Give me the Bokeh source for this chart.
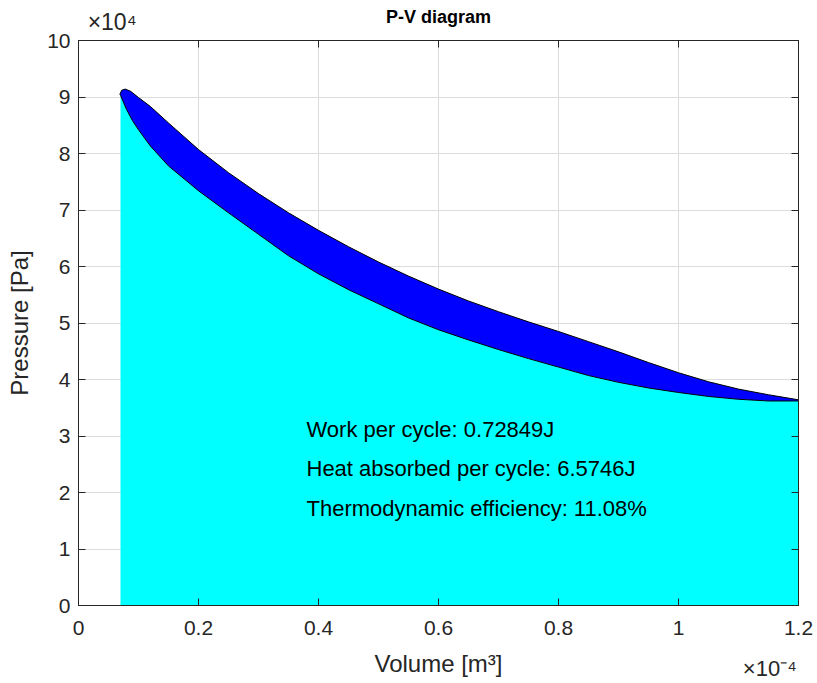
from bokeh.plotting import figure
from bokeh.models import Range1d, LinearAxis, FixedTicker, ColumnDataSource
from bokeh.core.properties import value
from bokeh.embed import file_html
from bokeh.resources import INLINE

# ---- data (volume in 1e-4 m^3, pressure in 1e4 Pa) ----
vol_upper = [0.069, 0.072, 0.078, 0.087, 0.10, 0.12, 0.15, 0.20, 0.25, 0.30, 0.35, 0.40,
             0.45, 0.50, 0.55, 0.60, 0.65, 0.70, 0.75, 0.80, 0.85, 0.90, 0.95, 1.00,
             1.05, 1.10, 1.15, 1.20]
p_upper = [9.05, 9.12, 9.14, 9.10, 8.99, 8.83, 8.54, 8.07, 7.66, 7.29, 6.95, 6.64,
           6.35, 6.08, 5.83, 5.60, 5.39, 5.20, 5.02, 4.85, 4.67, 4.49, 4.30, 4.12,
           3.96, 3.83, 3.73, 3.64]

vol_lower = [0.07, 0.08, 0.09, 0.10, 0.12, 0.15, 0.20, 0.25, 0.30, 0.35, 0.40, 0.45,
             0.50, 0.55, 0.60, 0.65, 0.70, 0.75, 0.80, 0.85, 0.90, 0.95, 1.00, 1.05,
             1.10, 1.15, 1.20]
p_lower = [9.03, 8.78, 8.58, 8.42, 8.13, 7.78, 7.34, 6.95, 6.57, 6.19, 5.87, 5.59,
           5.34, 5.09, 4.88, 4.70, 4.53, 4.37, 4.22, 4.07, 3.95, 3.85, 3.77, 3.70,
           3.65, 3.62, 3.62]

x_ticks = [0, 0.2, 0.4, 0.6, 0.8, 1.0, 1.2]
x_tick_labels = ["0", "0.2", "0.4", "0.6", "0.8", "1", "1.2"]
y_ticks = [0, 1, 2, 3, 4, 5, 6, 7, 8, 9, 10]
y_tick_labels = ["0", "1", "2", "3", "4", "5", "6", "7", "8", "9", "10"]

stats_text = ["Work per cycle: 0.72849J",
              "Heat absorbed per cycle: 6.5746J",
              "Thermodynamic efficiency: 11.08%"]
stats_x = [0.38, 0.38, 0.38]
stats_y = [3.12, 2.43, 1.71]

title_text = "P-V diagram"
x_label = "Volume [m³]"
y_label = "Pressure [Pa]"
y_exp = "×10⁴"
y_exp_x = 0.056
x_exp = "×10⁻⁴"
x_exp_x = 1.152

FONT = "Liberation Sans"
TXT = "#262626"

W, H = 817, 683
p = figure(width=W, height=H, output_backend="svg", toolbar_location=None,
           x_range=Range1d(0, 1.2), y_range=Range1d(0, 10),
           min_border_left=78, min_border_right=W - 798, min_border_top=40,
           min_border_bottom=H - 606,
           x_axis_label=x_label, y_axis_label=y_label, title=None)
p.background_fill_color = "white"
p.border_fill_color = "white"
p.outline_line_color = TXT
p.outline_line_width = 1

# area under the lower curve
area_x = vol_lower + [vol_lower[-1], vol_lower[0]]
area_y = p_lower + [0, 0]
p.patch(area_x, area_y, fill_color="#00FFFF", line_color=None)

# closed cycle loop
loop_x = vol_upper + vol_lower[::-1]
loop_y = p_upper + p_lower[::-1]
p.patch(loop_x, loop_y, fill_color="#0000FF", line_color="#000000", line_width=1)

# annotation texts
src = ColumnDataSource(dict(x=stats_x, y=stats_y, t=stats_text))
p.text("x", "y", text="t", source=src, text_font=value(FONT), text_font_size="22px",
       text_color="#000000", text_baseline="middle", text_align="left")

xt = FixedTicker(ticks=x_ticks)
yt = FixedTicker(ticks=y_ticks)


def base_style(ax):
    ax.axis_line_color = TXT
    ax.major_tick_line_color = TXT
    ax.major_tick_in = 7
    ax.major_tick_out = 0
    ax.minor_tick_line_color = None
    ax.major_label_text_font = FONT
    ax.major_label_text_color = TXT
    ax.major_label_text_font_size = "21px"
    ax.axis_label_text_font = FONT
    ax.axis_label_text_font_size = "24px"
    ax.axis_label_text_font_style = "normal"
    ax.axis_label_text_color = TXT


xa = p.xaxis[0]
base_style(xa)
xa.ticker = xt
xa.major_label_overrides = dict(zip(x_ticks, x_tick_labels))
xa.major_label_standoff = 15
xa.axis_label_standoff = 12

ya = p.yaxis[0]
base_style(ya)
ya.ticker = yt
ya.major_label_overrides = dict(zip(y_ticks, y_tick_labels))
ya.major_label_standoff = 8
ya.axis_label_standoff = 11

p.xgrid.ticker = xt
p.ygrid.ticker = yt
for g in (p.xgrid, p.ygrid):
    g.grid_line_color = "#dcdcdc"
    g.grid_line_width = 1

# top box side: tick marks (minor ticks), exponent label and title
top_ax = LinearAxis(ticker=FixedTicker(ticks=[y_exp_x], minor_ticks=x_ticks),
                    axis_label=title_text)
base_style(top_ax)
top_ax.major_tick_line_color = None
top_ax.minor_tick_line_color = TXT
top_ax.minor_tick_in = 7
top_ax.minor_tick_out = 0
top_ax.major_label_overrides = {y_exp_x: y_exp}
top_ax.major_label_text_font_size = "23px"
top_ax.major_label_standoff = 6
top_ax.axis_label_standoff = -21
top_ax.axis_label_text_font_size = "18px"
top_ax.axis_label_text_font_style = "bold"
top_ax.axis_label_text_color = "#000000"
p.add_layout(top_ax, "above")

# right box side: tick marks only
right_ax = LinearAxis(ticker=FixedTicker(ticks=[], minor_ticks=y_ticks))
base_style(right_ax)
right_ax.minor_tick_line_color = TXT
right_ax.minor_tick_in = 7
right_ax.minor_tick_out = 0
p.add_layout(right_ax, "right")

# bottom exponent label, on the same row as the x-axis label
exp_ax = LinearAxis(ticker=FixedTicker(ticks=[x_exp_x], minor_ticks=[]))
base_style(exp_ax)
exp_ax.axis_line_color = None
exp_ax.major_tick_line_color = None
exp_ax.major_label_overrides = {x_exp_x: x_exp}
exp_ax.major_label_text_font_size = "22px"
exp_ax.major_label_standoff = -24
p.add_layout(exp_ax, "below")

open("out.html", "w").write(file_html(p, INLINE))
